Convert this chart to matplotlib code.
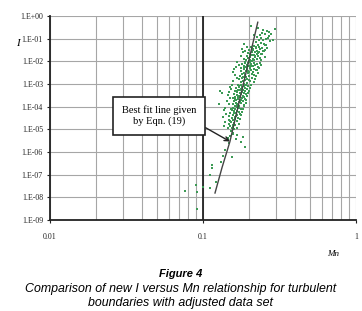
import matplotlib
matplotlib.use("Agg")
import matplotlib.pyplot as plt
from matplotlib.ticker import LogLocator, FixedLocator, NullFormatter

# ---- data ----
mn_top = [0.229, 0.247, 0.262, 0.295, 0.242, 0.254, 0.236, 0.268, 0.287, 0.260,
          0.226, 0.233, 0.248, 0.275, 0.221, 0.240, 0.229, 0.255, 0.238, 0.250]
i_top = [0.30, 0.25, 0.22, 0.27, 0.18, 0.156, 0.14, 0.13, 0.088, 0.097,
         0.12, 0.09, 0.085, 0.075, 0.07, 0.065, 0.055, 0.05, 0.11, 0.06]

mn_d2 = [0.215, 0.231, 0.205, 0.243, 0.222, 0.212, 0.236, 0.200, 0.226, 0.247,
         0.209, 0.218, 0.232, 0.198, 0.224, 0.240, 0.207, 0.215, 0.193, 0.229,
         0.203, 0.219, 0.236, 0.197, 0.211, 0.226, 0.190, 0.204, 0.217, 0.199,
         0.208, 0.253, 0.188, 0.228, 0.213]
i_d2 = [0.048, 0.045, 0.042, 0.04, 0.038, 0.036, 0.034, 0.032, 0.03, 0.029,
        0.027, 0.026, 0.025, 0.023, 0.022, 0.021, 0.02, 0.019, 0.018, 0.017,
        0.016, 0.015, 0.0145, 0.014, 0.013, 0.0125, 0.012, 0.0115, 0.011, 0.0105,
        0.01, 0.033, 0.028, 0.024, 0.019]

mn_d3 = [0.203, 0.188, 0.214, 0.196, 0.224, 0.181, 0.207, 0.193, 0.218, 0.199,
         0.186, 0.211, 0.228, 0.190, 0.202, 0.178, 0.215, 0.195, 0.184, 0.206,
         0.221, 0.191, 0.176, 0.199, 0.212, 0.185, 0.196, 0.181, 0.208, 0.217,
         0.188, 0.174, 0.200, 0.192, 0.183, 0.210, 0.179, 0.195, 0.171, 0.188,
         0.204, 0.182, 0.176, 0.193, 0.185]
i_d3 = [0.0095, 0.009, 0.0088, 0.0085, 0.008, 0.0077, 0.0074, 0.007, 0.0067, 0.0065,
        0.0062, 0.006, 0.0057, 0.0055, 0.0052, 0.005, 0.0048, 0.0046, 0.0044, 0.0042,
        0.004, 0.0038, 0.0036, 0.0035, 0.0033, 0.0031, 0.003, 0.0028, 0.0027, 0.0026,
        0.0024, 0.0023, 0.0022, 0.0021, 0.002, 0.0019, 0.0018, 0.0017, 0.0016, 0.0015,
        0.0014, 0.0013, 0.0012, 0.0011, 0.00105]

mn_d4 = [0.176, 0.190, 0.170, 0.184, 0.197, 0.173, 0.181, 0.165, 0.188, 0.178,
         0.194, 0.169, 0.183, 0.175, 0.162, 0.189, 0.179, 0.167, 0.185, 0.174,
         0.160, 0.192, 0.177, 0.168, 0.183, 0.172, 0.163, 0.186, 0.175, 0.158,
         0.180, 0.169, 0.189, 0.165, 0.176, 0.160, 0.182, 0.171, 0.164, 0.178,
         0.157, 0.185, 0.167, 0.173, 0.161, 0.130, 0.134, 0.128]
i_d4 = [9.5e-4, 9e-4, 8.6e-4, 8.2e-4, 7.8e-4, 7.5e-4, 7.2e-4, 6.8e-4, 6.5e-4, 6.2e-4,
        6e-4, 5.7e-4, 5.4e-4, 5.2e-4, 5e-4, 4.8e-4, 4.6e-4, 4.4e-4, 4.2e-4, 4e-4,
        3.8e-4, 3.6e-4, 3.5e-4, 3.3e-4, 3.1e-4, 3e-4, 2.8e-4, 2.7e-4, 2.6e-4, 2.4e-4,
        2.3e-4, 2.2e-4, 2.1e-4, 2e-4, 1.9e-4, 1.8e-4, 1.7e-4, 1.6e-4, 1.5e-4, 1.4e-4,
        1.3e-4, 1.2e-4, 1.15e-4, 1.1e-4, 1.05e-4, 5.0e-4, 4.0e-4, 1.3e-4]

mn_d5 = [0.166, 0.158, 0.173, 0.162, 0.177, 0.154, 0.168, 0.160, 0.171, 0.151,
         0.164, 0.175, 0.157, 0.167, 0.149, 0.161, 0.170, 0.155, 0.163, 0.148,
         0.158, 0.166, 0.152, 0.160, 0.147, 0.156, 0.163, 0.150, 0.158, 0.145,
         0.154, 0.160]
i_d5 = [9.5e-5, 9e-5, 8.5e-5, 8e-5, 7.5e-5, 7e-5, 6.6e-5, 6.2e-5, 5.8e-5, 5.4e-5,
        5e-5, 4.7e-5, 4.4e-5, 4.1e-5, 3.8e-5, 3.5e-5, 3.3e-5, 3.1e-5, 2.9e-5, 2.7e-5,
        2.5e-5, 2.3e-5, 2.1e-5, 1.9e-5, 1.8e-5, 1.6e-5, 1.5e-5, 1.4e-5, 1.3e-5, 1.2e-5,
        1.1e-5, 1.0e-5]

mn_wide = [0.205, 0.270, 0.280, 0.215, 0.265,
           0.185, 0.258, 0.195, 0.262, 0.180, 0.250, 0.183, 0.244, 0.176, 0.256,
           0.185, 0.238, 0.221, 0.209, 0.234, 0.203, 0.220, 0.212,
           0.168, 0.236, 0.172, 0.240, 0.165, 0.232, 0.160, 0.226, 0.158, 0.230,
           0.163, 0.222, 0.167, 0.219, 0.158, 0.214, 0.189, 0.205, 0.186, 0.197,
           0.209, 0.187, 0.201, 0.193,
           0.155, 0.207, 0.150, 0.202, 0.152, 0.200, 0.148, 0.198, 0.145, 0.195,
           0.150, 0.192, 0.143, 0.190, 0.148, 0.186, 0.171, 0.181, 0.166, 0.177,
           0.170, 0.161, 0.174, 0.168,
           0.140, 0.183, 0.137, 0.180, 0.142, 0.178, 0.135, 0.174, 0.140, 0.171,
           0.138, 0.168, 0.153, 0.159, 0.165, 0.151, 0.156]
i_wide = [0.35, 0.20, 0.16, 0.15, 0.105,
          0.06, 0.055, 0.045, 0.04, 0.035, 0.03, 0.025, 0.021, 0.018, 0.016,
          0.013, 0.012, 0.043, 0.038, 0.027, 0.022, 0.017, 0.031,
          0.0092, 0.0087, 0.0072, 0.0068, 0.0058, 0.0053, 0.0045, 0.0041, 0.0034, 0.0032,
          0.0025, 0.0022, 0.0019, 0.0016, 0.0013, 0.0012, 0.0083, 0.0063, 0.0049, 0.0039,
          0.0029, 0.0021, 0.0015, 0.0011,
          9.2e-4, 8.8e-4, 7.4e-4, 6.9e-4, 5.9e-4, 5.1e-4, 4.3e-4, 3.9e-4, 3.4e-4, 2.9e-4,
          2.5e-4, 2.0e-4, 1.75e-4, 1.45e-4, 1.25e-4, 1.1e-4, 8.0e-4, 6.3e-4, 4.7e-4, 3.7e-4,
          2.75e-4, 2.15e-4, 1.65e-4, 1.35e-4,
          9e-5, 8.2e-5, 6.8e-5, 6.0e-5, 4.8e-5, 4.2e-5, 3.4e-5, 2.8e-5, 2.2e-5, 1.7e-5,
          1.35e-5, 1.15e-5, 7.7e-5, 5.2e-5, 3.7e-5, 2.4e-5, 1.45e-5]

mn_low = [0.157, 0.167, 0.182, 0.177, 0.188, 0.155, 0.139, 0.135, 0.1306, 0.146,
          0.150, 0.152, 0.158, 0.145, 0.165, 0.149, 0.115, 0.115, 0.111, 0.122,
          0.111, 0.1005, 0.092, 0.0895, 0.0762, 0.092]
i_low = [7.0e-6, 5.7e-6, 4.7e-6, 2.8e-6, 1.7e-6, 6.2e-7, 1.26e-6, 6.8e-7, 3.6e-7, 3.5e-6,
         5.0e-6, 8.5e-6, 6.5e-6, 4.2e-6, 3.8e-6, 2.4e-6, 2.7e-7, 1.95e-7, 9.3e-8, 4.7e-8,
         2.7e-8, 2.8e-8, 1.8e-8, 3.6e-8, 2.0e-8, 3.2e-9]

fit_mn = [0.1198, 0.133, 0.150, 0.228]
fit_i = [1.55e-8, 2.0e-7, 2.9e-6, 0.53]
arrow_point = (0.150, 2.9e-6)

x_ticks = [0.01, 0.1, 1]
x_tick_labels = ["0.01", "0.1", "1"]
y_ticks = [1e-9, 1e-8, 1e-7, 1e-6, 1e-5, 1e-4, 1e-3, 1e-2, 1e-1, 1e0]
y_tick_labels = ["1.E-09", "1.E-08", "1.E-07", "1.E-06", "1.E-05",
                 "1.E-04", "1.E-03", "1.E-02", "1.E-01", "1.E+00"]

box_text = "Best fit line given\nby Eqn. (19)"
caption_title = "Figure 4"
caption_lines = ["Comparison of new I versus Mn relationship for turbulent",
                 "boundaries with adjusted data set"]

# ---- figure ----
W, H = 362, 311
fig = plt.figure(figsize=(W / 100, H / 100), dpi=100)
ax = fig.add_axes([50 / W, 1 - 220 / H, 306 / W, 204 / H])
ax.set_xscale("log")
ax.set_yscale("log")
ax.set_xlim(0.01, 1)
ax.set_ylim(1e-9, 1)

grid_c = "#a6a6a6"
ax.xaxis.set_major_locator(FixedLocator(x_ticks))
ax.xaxis.set_minor_locator(LogLocator(base=10, subs=range(2, 10)))
ax.xaxis.set_minor_formatter(NullFormatter())
ax.set_xticklabels(x_tick_labels)
ax.yaxis.set_major_locator(FixedLocator(y_ticks))
ax.yaxis.set_minor_locator(FixedLocator([]))
ax.set_yticklabels(y_tick_labels)
ax.grid(True, which="major", color=grid_c, lw=0.8)
ax.grid(True, which="minor", axis="x", color=grid_c, lw=0.8)
ax.set_axisbelow(True)

for s in ("top", "right"):
    ax.spines[s].set_visible(False)
for s in ("left", "bottom"):
    ax.spines[s].set_color("#222222")
    ax.spines[s].set_linewidth(1.3)
ax.axvline(0.1, color="#222222", lw=1.3, zorder=1.5)

ax.tick_params(axis="both", which="major", direction="out", length=2.5,
               width=0.8, color="#222222", labelcolor="#222222")
ax.tick_params(axis="x", which="minor", length=0)
ax.tick_params(axis="x", which="major", pad=7)
ax.tick_params(axis="y", which="major", pad=2.5)
for lab in ax.get_xticklabels() + ax.get_yticklabels():
    lab.set_fontfamily("Liberation Serif")
    lab.set_fontsize(5.7)

green = "#3c9a55"
all_mn = mn_top + mn_d2 + mn_d3 + mn_d4 + mn_d5 + mn_wide + mn_low
all_i = i_top + i_d2 + i_d3 + i_d4 + i_d5 + i_wide + i_low
ax.scatter(all_mn, all_i, s=1.6, marker="s", color=green, linewidths=0, zorder=3)
ax.plot(fit_mn, fit_i, color="#444444", lw=1.0, zorder=4)

# annotation box
ax.annotate(box_text, xy=arrow_point, xycoords="data",
            xytext=(159 / W, 1 - 115.5 / H), textcoords="figure fraction",
            ha="center", va="center", fontsize=7.5, family="Liberation Serif",
            linespacing=1.2,
            bbox=dict(boxstyle="square,pad=0.85", fc="white", ec="#222222", lw=1.2),
            arrowprops=dict(arrowstyle="->", color="#222222", lw=1.0,
                            shrinkA=0, shrinkB=0, relpos=(1.0, 0.17)),
            zorder=5)

fig.text(18 / W, 1 - 44 / H, "I", fontsize=8, style="italic",
         family="Liberation Serif", ha="center", va="center")
fig.text(333 / W, 1 - 254 / H, "Mn", fontsize=6.5, style="italic",
         family="Liberation Serif", ha="center", va="center")

fig.text(181 / W, 1 - 274 / H, caption_title, fontsize=8.0, style="italic",
         weight="bold", family="Liberation Sans", ha="center", va="center")
for k, line in enumerate(caption_lines):
    fig.text(181 / W, 1 - (289 + 14 * k) / H, line, fontsize=8.9, style="italic",
             family="Liberation Sans", ha="center", va="center")

fig.savefig("out.png", dpi=100)
